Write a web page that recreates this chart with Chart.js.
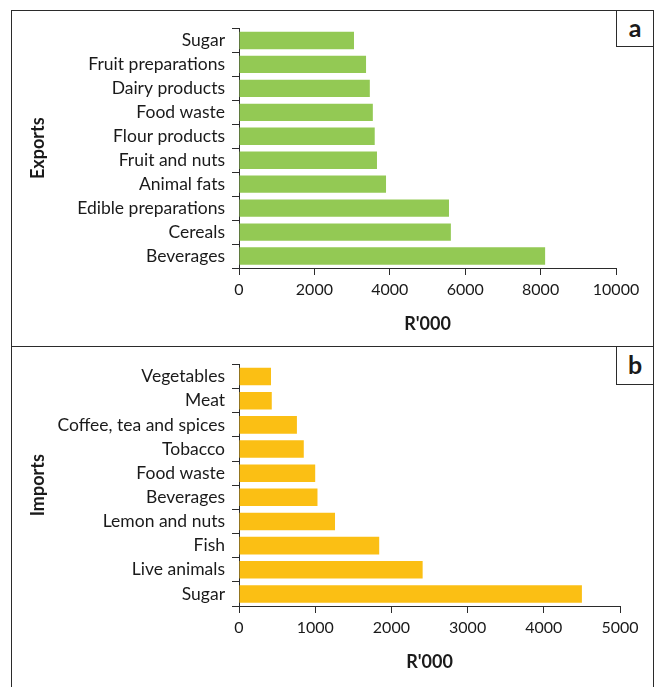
<!DOCTYPE html>
<html>
<head>
<meta charset="utf-8">
<script src="https://cdn.jsdelivr.net/npm/chart.js@4/dist/chart.umd.min.js"></script>
<style>
  html, body { margin: 0; padding: 0; background: #fff; }
  body { width: 660px; height: 687px; position: relative; overflow: hidden; font-family: Lato, sans-serif; }
  .panel { position: absolute; box-sizing: border-box; border: 1px solid #2b2b2b; }
  .tag { position: absolute; box-sizing: border-box; border: 1px solid #2b2b2b; background: #fff;
         font: bold 25px Lato, sans-serif; color: #1a1a1a; display: flex; align-items: center; justify-content: center; }
  canvas { position: absolute; }
</style>
</head>
<body>
<div class="panel" style="left:11px; top:10px; width:643px; height:337px;"></div>
<div class="panel" style="left:11px; top:346px; width:643px; height:360px;"></div>
<canvas id="exports" width="640" height="334" style="left:12px; top:11px;"></canvas>
<canvas id="imports" width="640" height="339" style="left:12px; top:347px;"></canvas>
<div class="tag" style="left:616px; top:10px; width:38px; height:37px;"><span style="margin-top:-3px">a</span></div>
<div class="tag" style="left:616px; top:346px; width:38px; height:39px;"><span style="margin-top:-3px">b</span></div>
<script>
// Panel a: exports by product group (R'000)
const exportCategories = ['Sugar', 'Fruit preparations', 'Dairy products', 'Food waste', 'Flour products',
  'Fruit and nuts', 'Animal fats', 'Edible preparations', 'Cereals', 'Beverages'];
const exportValues = [3050, 3370, 3470, 3550, 3600, 3660, 3900, 5570, 5620, 8120];
const exportTicks = [0, 2000, 4000, 6000, 8000, 10000];

// Panel b: imports by product group (R'000)
const importCategories = ['Vegetables', 'Meat', 'Coffee, tea and spices', 'Tobacco', 'Food waste',
  'Beverages', 'Lemon and nuts', 'Fish', 'Live animals', 'Sugar'];
const importValues = [420, 430, 760, 850, 1000, 1030, 1260, 1840, 2410, 4500];
const importTicks = [0, 1000, 2000, 3000, 4000, 5000];

const INK = '#1a1a1a';
const LINE = '#2b2b2b';

function barPanel(id, labels, values, ticks, color, yTitle, cfg) {
  const tickMax = ticks[ticks.length - 1];
  return new Chart(document.getElementById(id), {
    type: 'bar',
    data: {
      labels: labels,
      datasets: [{
        data: values,
        backgroundColor: color,
        borderWidth: 0,
        categoryPercentage: 1,
        barPercentage: 0.725
      }]
    },
    options: {
      indexAxis: 'y',
      responsive: false,
      animation: false,
      events: [],
      layout: { padding: { top: cfg.top, right: cfg.right, left: 0, bottom: 0 } },
      plugins: { legend: { display: false }, tooltip: { enabled: false } },
      scales: {
        x: {
          min: 0,
          max: tickMax,
          afterFit: s => { s.height = cfg.xHeight; },
          afterBuildTicks: s => { s.ticks = ticks.map(v => ({ value: v })); },
          ticks: {
            color: INK, padding: 5, autoSkip: false,
            font: { family: 'Lato', size: 16 },
            callback: v => String(v)
          },
          grid: { drawOnChartArea: false, drawTicks: true, tickLength: 7, color: LINE, lineWidth: 1 },
          border: { display: true, color: LINE, width: 1 },
          title: {
            display: true,
            text: "R'000",
            color: INK,
            font: { family: 'Lato', size: 18, weight: 'bold' },
            padding: { top: 0, bottom: cfg.titleBottom }
          }
        },
        y: {
          afterFit: s => { s.width = 227; },
          ticks: { color: INK, padding: 7, autoSkip: false, font: { family: 'Lato', size: 17.5 } },
          grid: { drawOnChartArea: false, drawTicks: true, tickLength: 7, offset: true, color: LINE, lineWidth: 1 },
          border: { display: true, color: LINE, width: 1 },
          title: {
            display: true,
            text: yTitle,
            color: INK,
            font: { family: 'Lato', size: 18, weight: 'bold' },
            padding: { top: 15, bottom: 0 }
          }
        }
      }
    }
  });
}

barPanel('exports', exportCategories, exportValues, exportTicks, '#93c954', 'Exports',
  { top: 14, right: 36, xHeight: 77, titleBottom: 10 });
barPanel('imports', importCategories, importValues, importTicks, '#fbbf14', 'Imports',
  { top: 15, right: 32, xHeight: 80, titleBottom: 13 });
</script>
</body>
</html>
